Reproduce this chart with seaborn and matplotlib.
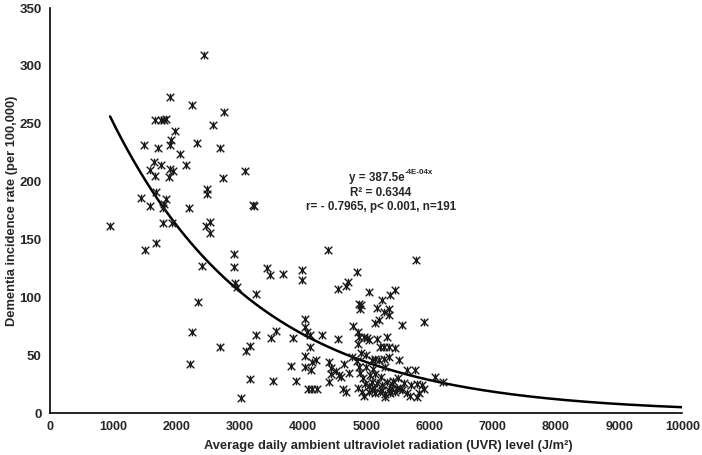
import numpy as np
import pandas as pd
import seaborn as sns
import matplotlib.pyplot as plt
from matplotlib.path import Path

# UVR level (J/m2) and dementia incidence (per 100,000)
uvr = [2440, 1905, 2250, 2745, 1660, 1760, 1810, 1830, 2580, 1970,
       1915, 1905, 1486, 1706, 2325, 2693, 2063, 2152, 1643, 1758,
       1575, 1664, 1905, 1942, 1874, 3087, 2730, 2483, 2483, 1680,
       1433, 1575, 1827, 1800, 1785, 2205, 3217, 3230, 945, 1785,
       1927, 2467, 2535, 2535, 1496, 1680, 2903, 2903, 2399, 3438,
       3480, 3685, 2929, 2955, 3265, 2336, 2241, 2693, 3097, 3165,
       3255, 3491, 3570, 3850, 2220, 3165, 3533, 3018, 3806, 4399,
       4855, 3979, 3979, 4551, 4682, 4709, 5050, 4890, 4920, 4905,
       4030, 4030, 4070, 4110, 4294, 4556, 4105, 4793, 4871, 4882,
       4961, 5013, 4871, 5171, 5276, 5328, 4031, 4031, 4147, 4200,
       4121, 4409, 4436, 4436, 4515, 4567, 4646, 4724, 4409, 4594,
       3895, 4084, 4147, 4226, 4630, 4682, 5790, 5460, 5380, 5249,
       5171, 5354, 5354, 5276, 5197, 5145, 5564, 5906, 5039, 5224,
       5354, 5460, 5522, 5354, 5276, 5197, 5145, 5091, 5643, 5774,
       6089, 6220, 5145, 5302, 5091, 5171, 5249, 5327, 5406, 5485,
       5537, 5091, 5145, 5224, 5302, 5354, 5406, 5460, 5564, 5643,
       5696, 5800, 5827, 5906, 5879, 5800, 5302, 5039, 5039, 4850,
       4880, 4900, 4950, 4980, 4870, 4930, 4960, 5000, 5060, 4990,
       4920, 5120, 5250, 5380, 5430, 5500, 5600, 5700, 5230, 5110,
       4780]
incidence = [309, 273, 266, 260, 253, 253, 253, 254, 249, 244,
             236, 232, 232, 229, 233, 229, 224, 214, 217, 214,
             210, 205, 211, 209, 204, 209, 203, 194, 189, 191,
             186, 179, 185, 181, 177, 177, 180, 179, 162, 164,
             164, 162, 165, 156, 141, 147, 137, 126, 127, 125,
             119, 120, 112, 109, 103, 96, 70, 57, 54, 58,
             67, 65, 71, 65, 42, 29, 28, 13, 41, 141,
             122, 124, 115, 107, 110, 113, 105, 94, 93, 90,
             81, 74, 70, 67, 67, 64, 57, 75, 70, 66,
             66, 65, 60, 64, 57, 66, 49, 40, 44, 46,
             37, 44, 39, 34, 36, 33, 42, 35, 27, 31,
             28, 21, 21, 21, 21, 18, 132, 106, 102, 98,
             91, 90, 85, 87, 80, 78, 76, 79, 63, 57,
             57, 56, 46, 48, 47, 46, 47, 46, 37, 37,
             31, 27, 34, 40, 27, 26, 24, 27, 25, 22,
             21, 20, 17, 18, 16, 20, 21, 18, 20, 17,
             15, 14, 17, 21, 24, 25, 14, 23, 18, 45,
             40, 35, 30, 25, 22, 18, 15, 40, 33, 50,
             52, 22, 20, 17, 28, 30, 26, 24, 31, 38,
             48]

# exponential trendline y = a * exp(b * x)
fit_a = 387.5
fit_b = -4.35e-4
fit_start, fit_end = 950, 10000

df = pd.DataFrame({'uvr': uvr, 'incidence': incidence})
fit_x = np.linspace(fit_start, fit_end, 300)
fit = pd.DataFrame({'uvr': fit_x, 'incidence': fit_a * np.exp(fit_b * fit_x)})

sns.set_theme(style='white')
plt.rcParams['font.family'] = ['Liberation Sans', 'DejaVu Sans']

# Excel style "star" marker: an X with a vertical bar
star = Path([(-1, -1), (1, 1), (-1, 1), (1, -1), (0, -1), (0, 1)],
            [Path.MOVETO, Path.LINETO, Path.MOVETO, Path.LINETO, Path.MOVETO, Path.LINETO])

fig = plt.figure(figsize=(7.02, 4.55), dpi=100)
ax = fig.add_axes([0.0712, 0.0923, 0.901, 0.89])

sns.scatterplot(data=df, x='uvr', y='incidence', marker=star, s=30,
                color='#1a1a1a', edgecolor='#1a1a1a', linewidth=1.0, ax=ax, zorder=3)
sns.lineplot(data=fit, x='uvr', y='incidence', color='black', linewidth=1.8, ax=ax, zorder=2)

ax.set_xlim(0, 10000)
ax.set_ylim(0, 350)
ax.set_xticks(range(0, 10001, 1000))
ax.set_yticks(range(0, 351, 50))
ax.tick_params(axis='x', length=0, labelsize=9, pad=6)
ax.tick_params(axis='y', length=0, labelsize=9.5, pad=6)
for lbl in ax.get_xticklabels() + ax.get_yticklabels():
    lbl.set_fontweight('bold')

ax.set_xlabel('Average daily ambient ultraviolet radiation (UVR) level (J/m²)',
              fontsize=9.3, fontweight='bold')
ax.xaxis.set_label_coords(0.535, -0.066)
ax.set_ylabel('Dementia incidence rate (per 100,000)', fontsize=9.3, fontweight='bold', labelpad=1)

for side in ['top', 'right']:
    ax.spines[side].set_visible(False)
for side in ['left', 'bottom']:
    ax.spines[side].set_color('black')
    ax.spines[side].set_linewidth(1.2)

# trendline equation
ax.text(5606, 203, 'y = 387.5e', ha='right', va='center', fontsize=8.4, fontweight='bold')
ax.text(5610, 207.5, '-4E-04x', ha='left', va='center', fontsize=5.8, fontweight='bold')
ax.text(5228, 190, 'R² = 0.6344', ha='center', va='center', fontsize=8.4, fontweight='bold')
ax.text(5228, 178, 'r= - 0.7965, p< 0.001, n=191', ha='center', va='center', fontsize=8.4, fontweight='bold')

plt.savefig('out.png', dpi=100)
